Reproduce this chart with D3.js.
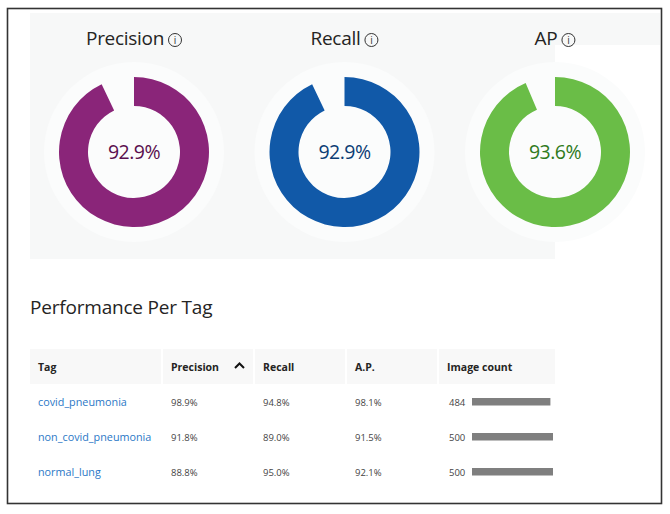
<!DOCTYPE html>
<html><head><meta charset="utf-8">
<script src="https://cdn.jsdelivr.net/npm/d3@7/dist/d3.min.js"></script>
<style>
html,body{margin:0;padding:0;background:#fff;}
svg{display:block;font-family:"Open Sans","Noto Sans",sans-serif;}
</style></head>
<body>
<svg id="chart" width="670" height="514"></svg>
<script>
// ---- data ----
const metricNames = ["Precision", "Recall", "AP"];
const metricValues = [92.9, 92.9, 93.6];
const metricColors = ["#8a2579", "#1159a8", "#6abd47"];
const metricTextColors = ["#5a0f4e", "#0c3c74", "#2f7a1c"];

const tags = ["covid_pneumonia", "non_covid_pneumonia", "normal_lung"];
const tagPrecision = [98.9, 91.8, 88.8];
const tagRecall = [94.8, 89.0, 95.0];
const tagAP = [98.1, 91.5, 92.1];
const imageCounts = [484, 500, 500];
const columnHeaders = ["Tag", "Precision", "Recall", "A.P.", "Image count"];

const svg = d3.select("#chart");

// outer frame
svg.append("rect").attr("x", 7.5).attr("y", 8.5).attr("width", 654).attr("height", 495)
  .attr("fill", "#fff").attr("stroke", "#333").attr("stroke-width", 1.6);

// faint panel
svg.append("rect").attr("x", 30).attr("y", 13).attr("width", 525).attr("height", 246).attr("fill", "#f7f8f8");
svg.append("rect").attr("x", 555).attr("y", 13).attr("width", 105).attr("height", 32).attr("fill", "#f7f8f8");

// ---- donuts ----
const cx = d3.scalePoint().domain(metricNames).range([134, 555]);
const cy = 152, rOuter = 75, rInner = 46;
const arc = d3.arc().innerRadius(rInner).outerRadius(rOuter);
const pct = d3.format(".1f");

metricNames.forEach((name, i) => {
  const g = svg.append("g").attr("transform", `translate(${cx(name)},${cy})`);
  g.append("circle").attr("r", 90).attr("fill", "#fbfcfc");
  const pie = d3.pie().sort(null)([metricValues[i], 100 - metricValues[i]]);
  g.append("path").attr("d", arc(pie[0])).attr("fill", metricColors[i]);
  g.append("text").attr("y", 2).attr("text-anchor", "middle").attr("dominant-baseline", "middle")
    .attr("font-size", 19.5).attr("fill", metricTextColors[i]).attr("letter-spacing", -0.5)
    .text(pct(metricValues[i]) + "%");

  // title + info icon
  const tg = svg.append("g");
  const t = tg.append("text").attr("y", 45).attr("font-size", 19).attr("fill", "#252423")
    .attr("letter-spacing", -0.3).text(name);
  const w = t.node().getComputedTextLength();
  const total = w + 4 + 14;
  const x0 = cx(name) - total / 2;
  t.attr("x", x0);
  const ix = x0 + w + 4 + 7;
  tg.append("circle").attr("cx", ix).attr("cy", 40).attr("r", 6.5)
    .attr("fill", "none").attr("stroke", "#333").attr("stroke-width", 1);
  tg.append("text").attr("x", ix).attr("y", 44).attr("text-anchor", "middle")
    .attr("font-size", 10).attr("fill", "#333").text("i");
});

// ---- table ----
svg.append("text").attr("x", 30).attr("y", 314).attr("font-size", 19).attr("fill", "#252423")
  .attr("letter-spacing", -0.2).text("Performance Per Tag");

const colX = [30, 163, 255, 347, 439];
const colW = [131, 90, 90, 90, 116];
const headerY = 349, headerH = 35;
const rowY = d3.scalePoint().domain(tags).range([402, 472]);

columnHeaders.forEach((h, j) => {
  svg.append("rect").attr("x", colX[j]).attr("y", headerY).attr("width", colW[j]).attr("height", headerH)
    .attr("fill", "#f8f8f8");
  svg.append("text").attr("x", colX[j] + 8).attr("y", 371).attr("font-size", 10.5)
    .attr("font-weight", "bold").attr("fill", "#252423").text(h);
});
// sort caret
svg.append("path").attr("d", "M235,368 L239.5,363.5 L244,368").attr("fill", "none")
  .attr("stroke", "#111").attr("stroke-width", 2);

const barScale = d3.scaleLinear().domain([0, 500]).range([0, 81]);
const cols = [tagPrecision, tagRecall, tagAP];

tags.forEach((tag, i) => {
  const y = rowY(tag);
  svg.append("text").attr("x", 38).attr("y", y + 4).attr("font-size", 10.8).attr("fill", "#2a77c6").text(tag);
  cols.forEach((arr, j) => {
    svg.append("text").attr("x", colX[j + 1] + 8).attr("y", y + 3.5).attr("font-size", 9.5)
      .attr("fill", "#444").text(pct(arr[i]) + "%");
  });
  svg.append("text").attr("x", 449).attr("y", y + 3.5).attr("font-size", 9.5).attr("fill", "#444")
    .text(imageCounts[i]);
  svg.append("rect").attr("x", 472).attr("y", y - 4).attr("width", barScale(imageCounts[i]))
    .attr("height", 7.5).attr("fill", "#7f7f7f");
});
</script>
</body></html>
